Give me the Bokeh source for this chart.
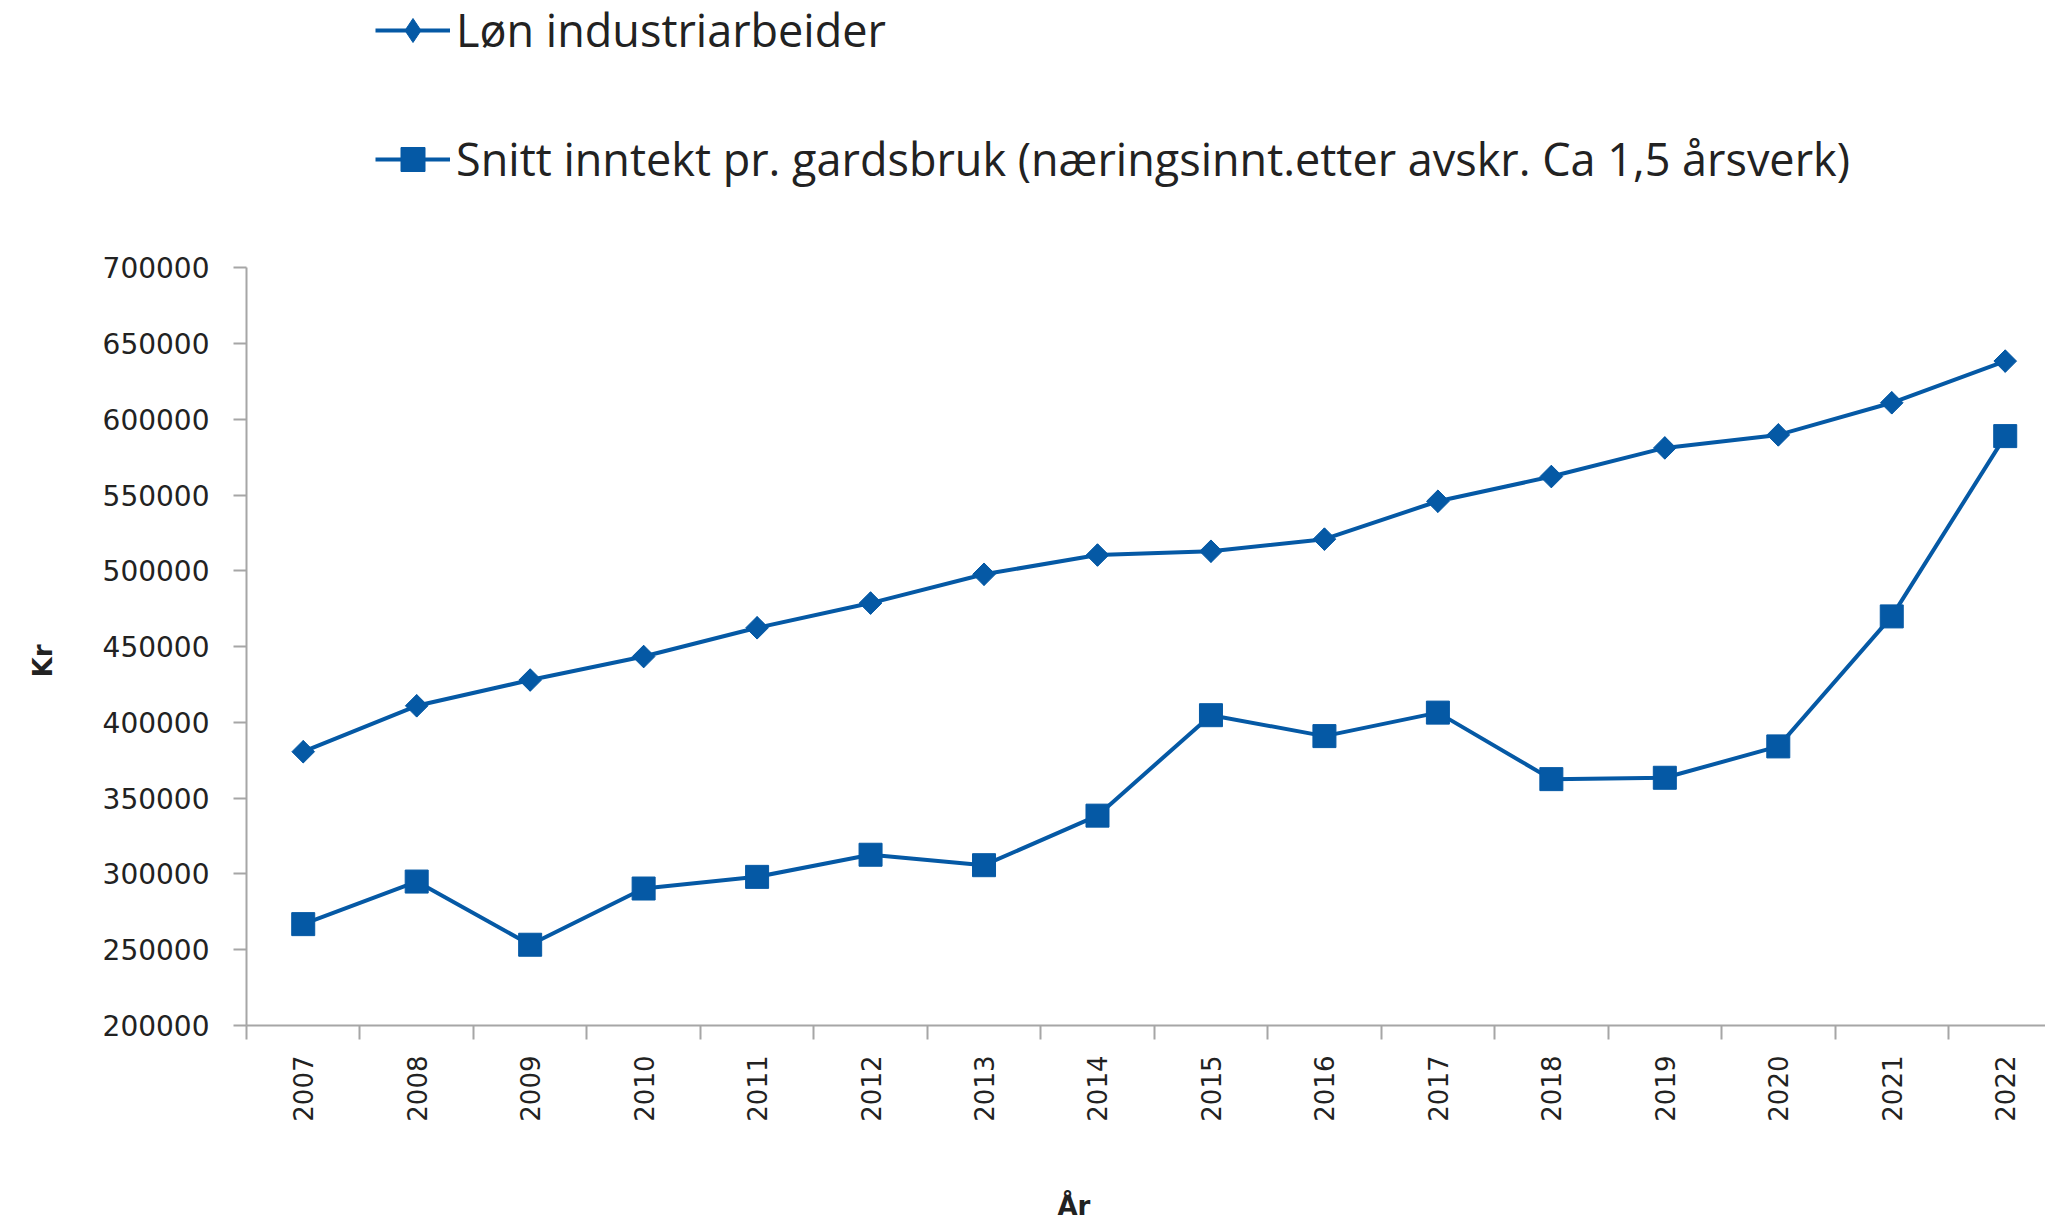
import math
from bokeh.plotting import figure
from bokeh.models import (Range1d, FixedTicker, NumeralTickFormatter, Legend, LegendItem,
                          LinearAxis, Title, ColumnDataSource)
from bokeh.embed import file_html
from bokeh.resources import INLINE

years = list(range(2007, 2023))
lonn_industriarbeider = [380700, 411000, 428000, 443500, 462500, 478800, 497800, 510500,
                         513000, 521000, 546000, 562300, 581200, 589800, 611000, 638500]
snitt_gardsbruk = [266900, 295000, 253300, 290400, 298100, 312700, 305800, 338500,
                   404800, 391000, 406500, 362600, 363500, 384200, 470000, 589000]
y_ticks = [200000, 250000, 300000, 350000, 400000, 450000, 500000, 550000, 600000, 650000, 700000]
label_lonn = "Løn industriarbeider"
label_gard = "Snitt inntekt pr. gardsbruk (næringsinnt.etter avskr. Ca 1,5 årsverk)"
y_title = "Kr"
x_title = "År"

BLUE = "#0559a5"
GREY = "#a6a6a6"
TXT = "#222222"

src1 = ColumnDataSource(dict(x=years, y=lonn_industriarbeider))
src2 = ColumnDataSource(dict(x=years, y=snitt_gardsbruk))

# frame spans the full height so the legend sits inside it; axis bounds limit the drawn axis
p = figure(width=2045, height=1220, output_backend="svg", toolbar_location=None,
           x_range=Range1d(2006.5, 2022.355), y_range=Range1d(200000, 876500),
           min_border_left=246, min_border_top=0, min_border_bottom=193, min_border_right=0)
p.outline_line_color = None
p.xgrid.visible = False
p.ygrid.visible = False

l1 = p.line("x", "y", source=src1, line_color=BLUE, line_width=4)
# narrow diamond (used for the legend symbol) hidden underneath the wider rotated square
m1_leg = p.scatter("x", "y", source=src1, marker="diamond", size=22,
                   fill_color=BLUE, line_color=BLUE)
m1 = p.scatter("x", "y", source=src1, marker="square", angle=math.pi / 4, size=16,
               fill_color=BLUE, line_color=BLUE)
l2 = p.line("x", "y", source=src2, line_color=BLUE, line_width=4)
m2 = p.scatter("x", "y", source=src2, marker="square", size=23, fill_color=BLUE, line_color=BLUE)

# y axis
ya = p.yaxis[0]
ya.bounds = (200000, 700000)
ya.ticker = FixedTicker(ticks=y_ticks, minor_ticks=[])
ya.formatter = NumeralTickFormatter(format="0")
ya.axis_line_color = GREY
ya.axis_line_width = 2
ya.major_tick_line_color = GREY
ya.major_tick_line_width = 2
ya.major_tick_out = 13
ya.major_tick_in = 0
ya.major_label_standoff = 24
ya.major_label_text_font = "DejaVu Sans"
ya.major_label_text_font_size = "28px"
ya.major_label_text_color = TXT

# x axis
xa = p.xaxis[0]
xa.ticker = FixedTicker(ticks=years, minor_ticks=[y - 0.5 for y in years])
xa.major_label_overrides = {y: str(y) for y in years}
xa.axis_line_color = GREY
xa.axis_line_width = 2
xa.major_tick_line_color = None
xa.major_tick_out = 14
xa.major_tick_in = 0
xa.minor_tick_line_color = GREY
xa.minor_tick_line_width = 2
xa.minor_tick_out = 14
xa.minor_tick_in = 0
xa.major_label_orientation = math.pi / 2
xa.major_label_standoff = 16
xa.major_label_text_font = "DejaVu Sans"
xa.major_label_text_font_size = "26px"
xa.major_label_text_color = TXT


def spacer_axis(gap):
    # an axis that draws nothing; its (blank) label standoff only reserves space
    axis = LinearAxis(ticker=FixedTicker(ticks=[], minor_ticks=[]))
    axis.axis_line_color = None
    axis.major_tick_line_color = None
    axis.minor_tick_line_color = None
    axis.major_tick_out = 0
    axis.major_tick_in = 0
    axis.minor_tick_out = 0
    axis.minor_tick_in = 0
    axis.major_label_standoff = 0
    axis.axis_label = "\u00a0"
    axis.axis_label_text_font_size = "1px"
    axis.axis_label_standoff = gap
    return axis


p.add_layout(spacer_axis(38), "left")
p.add_layout(Title(text=y_title, align="left", offset=348, standoff=0,
                   text_font="DejaVu Sans", text_font_style="bold",
                   text_font_size="26px", text_color=TXT), "left")
p.add_layout(spacer_axis(60), "below")
p.add_layout(Title(text=x_title, align="left", offset=811, standoff=0,
                   text_font="DejaVu Sans", text_font_style="bold",
                   text_font_size="26px", text_color=TXT), "below")

legend = Legend(items=[LegendItem(label=label_lonn, renderers=[l1, m1_leg]),
                       LegendItem(label=label_gard, renderers=[l2, m2])],
                location=(129, 836), orientation="vertical",
                padding=0, margin=0, spacing=68,
                glyph_width=75, glyph_height=60, label_height=60, label_standoff=6,
                border_line_color=None, background_fill_alpha=0,
                label_text_font="Open Sans", label_text_font_size="45px",
                label_text_color=TXT)
p.add_layout(legend)

open("out.html", "w").write(file_html(p, INLINE))
